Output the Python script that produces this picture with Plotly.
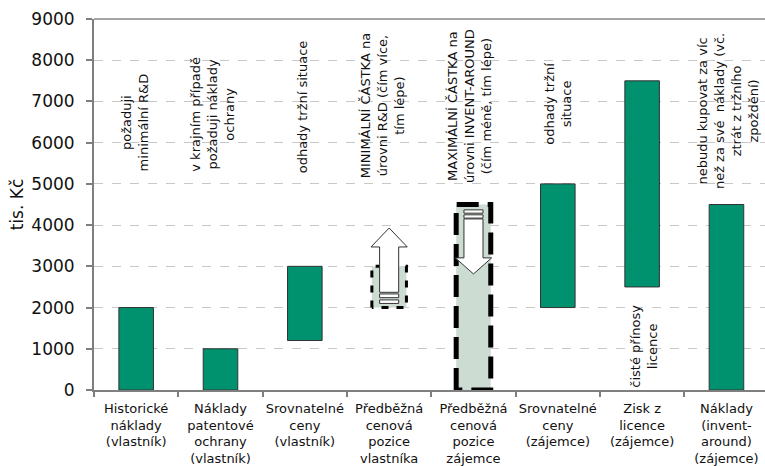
import plotly.graph_objects as go

# Price-negotiation ranges (tis. Kč) for each party's pricing argument
categories = [
    "Historické<br>náklady<br>(vlastník)",
    "Náklady<br>patentové<br>ochrany<br>(vlastník)",
    "Srovnatelné<br>ceny<br>(vlastník)",
    "Předběžná<br>cenová<br>pozice<br>vlastníka",
    "Předběžná<br>cenová<br>pozice<br>zájemce",
    "Srovnatelné<br>ceny<br>(zájemce)",
    "Zisk z<br>licence<br>(zájemce)",
    "Náklady<br>(invent-<br>around)<br>(zájemce)",
]
range_low = [0, 0, 1200, 2000, 0, 2000, 2500, 0]
range_high = [2000, 1000, 3000, 3000, 4500, 5000, 7500, 4500]
# which ranges are preliminary price positions (drawn as dashed boxes)
is_position = [False, False, False, True, True, False, False, False]

# arrows inside the position boxes: category index, tail value, tip value, head length
arrow_cat = [3, 4]
arrow_tail = [2370, 4150]
arrow_tip = [3930, 2815]
arrow_head = [460, 390]
# small stripes under the arrow tails: category index, from, to
stripe_cat = [3, 3, 4, 4]
stripe_from = [2240, 2100, 4290, 4170]
stripe_to = [2330, 2185, 4370, 4250]

# vertical notes above the ranges
note_texts = [
    "požaduji<br>minimální R&D",
    "v krajním případě<br>požaduji náklady<br>ochrany",
    "odhady tržní situace",
    "MINIMÁLNÍ ČÁSTKA na<br>úrovni R&D (čím více,<br>tím lépe)",
    "MAXIMÁLNÍ ČÁSTKA na<br>úrovni INVENT-AROUND<br>(čím méně, tím lépe)",
    "odhady tržní<br>situace",
    "nebudu kupovat za víc<br>než za své\u00a0 náklady (vč.<br>ztrát z tržního<br>zpoždění)",
    "čisté přínosy<br>licence",
]
note_x = [-0.01, 0.91, 1.97, 2.93, 3.96, 5.0, 7.02, 6.02]
note_y = [6500, 6700, 6865, 6890, 6890, 6940, 6770, 1070]

y_ticks = list(range(0, 9001, 1000))

GREEN = "#00916E"
LIGHT = "#CCDCD3"
FONT = "Verdana, DejaVu Sans, sans-serif"
BAR_W = 0.41

fig = go.Figure()

idx = list(range(len(categories)))
solid = [i for i in idx if not is_position[i]]
boxes = [i for i in idx if is_position[i]]

fig.add_trace(go.Bar(
    x=solid,
    y=[range_high[i] - range_low[i] for i in solid],
    base=[range_low[i] for i in solid],
    width=BAR_W,
    marker=dict(color=GREEN, line=dict(color="#333333", width=1)),
    hoverinfo="skip",
))
fig.add_trace(go.Bar(
    x=boxes,
    y=[range_high[i] - range_low[i] for i in boxes],
    base=[range_low[i] for i in boxes],
    width=BAR_W,
    marker=dict(color=LIGHT, line=dict(width=0)),
    hoverinfo="skip",
))

# dashed outlines of the price-position boxes
box_styles = {3: dict(width=3, dash="7px,8px"), 4: dict(width=5, dash="22px,9px")}
for i in boxes:
    x0, x1 = i - BAR_W / 2, i + BAR_W / 2
    fig.add_trace(go.Scatter(
        x=[x0, x0, x1, x1, x0],
        y=[range_low[i], range_high[i], range_high[i], range_low[i], range_low[i]],
        mode="lines",
        line=dict(color="black", **box_styles[i]),
        hoverinfo="skip",
    ))

# block arrows
SHAFT = 0.113
HEAD = 0.215
for c, t0, t1, hl in zip(arrow_cat, arrow_tail, arrow_tip, arrow_head):
    sgn = 1 if t1 > t0 else -1
    hb = t1 - sgn * hl
    xs = [c - SHAFT, c - SHAFT, c - HEAD, c, c + HEAD, c + SHAFT, c + SHAFT, c - SHAFT]
    ys = [t0, hb, hb, t1, hb, hb, t0, t0]
    fig.add_trace(go.Scatter(
        x=xs, y=ys, mode="lines", fill="toself", fillcolor="white",
        line=dict(color="#333333", width=1), hoverinfo="skip",
    ))
for c, s0, s1 in zip(stripe_cat, stripe_from, stripe_to):
    fig.add_trace(go.Scatter(
        x=[c - SHAFT, c - SHAFT, c + SHAFT, c + SHAFT, c - SHAFT],
        y=[s0, s1, s1, s0, s0], mode="lines", fill="toself", fillcolor="white",
        line=dict(color="#333333", width=1), hoverinfo="skip",
    ))

for txt, x, y in zip(note_texts, note_x, note_y):
    fig.add_annotation(
        x=x, y=y, xref="x", yref="y", text=txt, textangle=-90,
        showarrow=False, align="center",
        font=dict(family=FONT, size=13, color="#111111"),
    )

# frame line along the top of the plot area
fig.add_shape(type="line", xref="paper", yref="paper", x0=0, x1=1, y0=1, y1=1,
              line=dict(color="#a6a6a6", width=2), layer="below")

fig.update_layout(
    width=765, height=466,
    margin=dict(l=94, r=0, t=19, b=76),
    paper_bgcolor="white", plot_bgcolor="white",
    showlegend=False,
    barmode="overlay",
    font=dict(family=FONT, color="#111111"),
    xaxis=dict(
        range=[-0.5, 7.457],
        tickmode="array", tickvals=idx, ticktext=categories,
        tickfont=dict(family=FONT, size=13, color="#111111"),
        ticks="outside", ticklen=5, tickcolor="rgba(0,0,0,0)",
        minor=dict(tickmode="array", tickvals=[i - 0.5 for i in range(9)],
                   ticks="outside", ticklen=5, tickcolor="#7f7f7f", tickwidth=1.5,
                   showgrid=False),
        showgrid=False, zeroline=False,
        showline=True, linecolor="#7f7f7f", linewidth=2,
        fixedrange=True,
    ),
    yaxis=dict(
        range=[0, 9000],
        tickmode="array", tickvals=y_ticks,
        tickfont=dict(family=FONT, size=17, color="#111111"),
        ticks="outside", ticklen=6, tickcolor="#7f7f7f", tickwidth=1.5,
        ticklabelstandoff=8,
        showgrid=True, gridcolor="#c8c8c8", griddash="dash", gridwidth=1,
        zeroline=False,
        showline=True, linecolor="#7f7f7f", linewidth=2,
        title=dict(text="tis. Kč", font=dict(family=FONT, size=17, color="#111111"),
                   standoff=3),
        fixedrange=True,
    ),
)

fig.write_html("out.html")
